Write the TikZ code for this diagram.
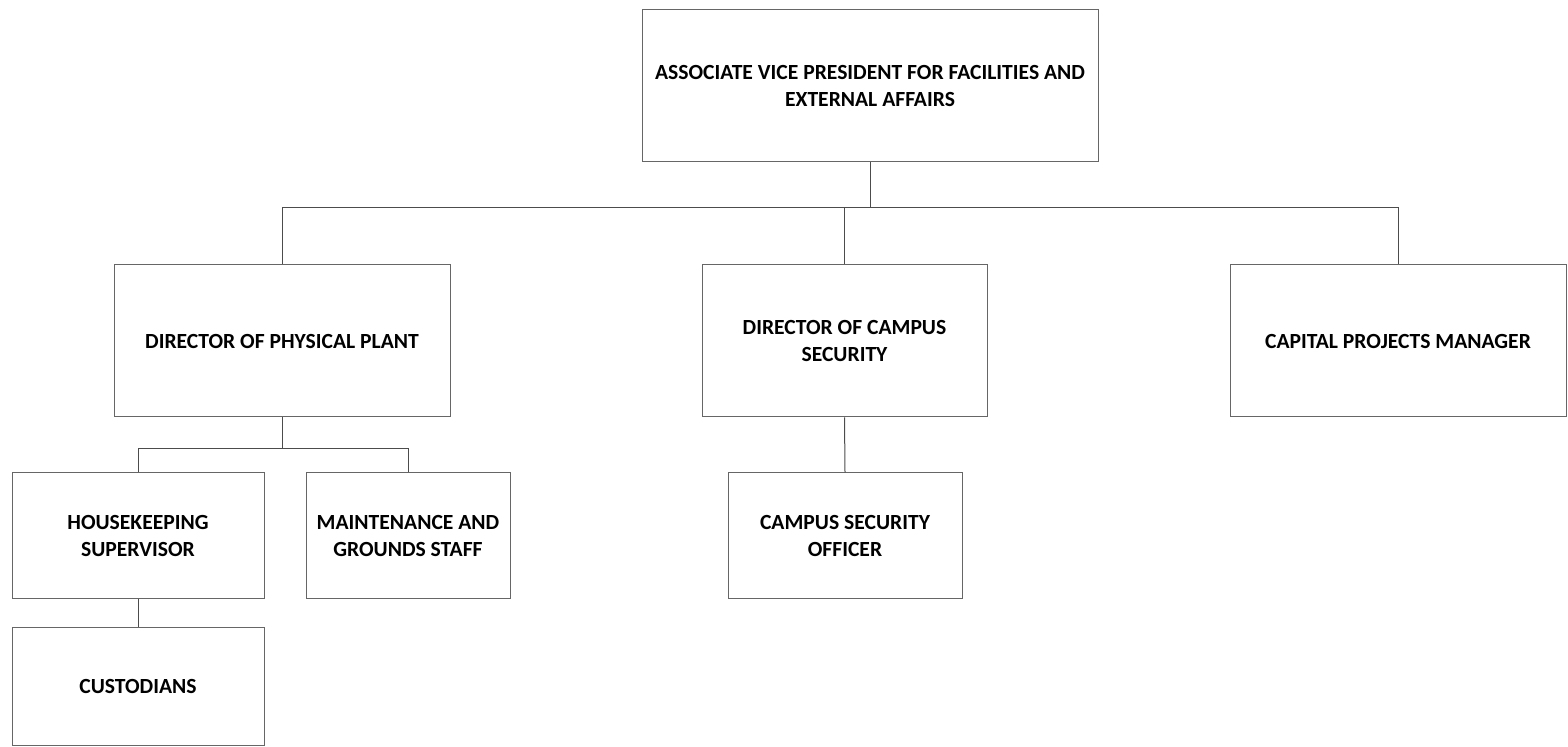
\documentclass[tikz,border=0pt]{standalone}
\usepackage{fontspec}
\setmainfont{Carlito}
\usepackage{tikz}
\usetikzlibrary{calc}
\usetikzlibrary{positioning}

\begin{document}
\begin{tikzpicture}[
		x=0.5pt,
		y=-0.5pt,
		line width=0.5pt
		]
		\tikzstyle{post}=[
			rectangle,
			draw=black!60,
			fill=white,
			%drop shadow,
			align=center,
			inner sep=0 pt,
			font=\fontsize{10.8}{13.2}\selectfont\bfseries
		]
		\tikzstyle{big post}=[
			post,
			minimum width=168 pt,
			minimum height=76 pt
		]
		\tikzstyle{small post}=[
			post,
			minimum height=63 pt
		]
		\tikzstyle{link}=[
			draw=black!70
		]
		\useasboundingbox (0,0) rectangle (1568,747);
		% Draw the top of the chart.
			\node[big post, minimum width=228 pt] (AVP) at (870,86) {ASSOCIATE VICE PRESIDENT FOR FACILITIES AND\\EXTERNAL AFFAIRS};
		% Draw the directors.
			\node[big post] (DPP) at (282,341) {DIRECTOR OF PHYSICAL PLANT};
			\node[big post, minimum width=142.5 pt] (DCS) at (844.5,341) {DIRECTOR OF CAMPUS\\SECURITY};
			\node[big post] (CPM) at (1398,341) {CAPITAL PROJECTS MANAGER};
		% Draw the staff under them.
			\node[small post, minimum width=126 pt] (HS) at (138,536) {HOUSEKEEPING\\SUPERVISOR};
			\node[small post, minimum width=102 pt] (MGS) at (408,536) {MAINTENANCE AND\\GROUNDS STAFF};
			\node[post, minimum width=126 pt, minimum height=58.5 pt] (CUST) at (138,686.5) {CUSTODIANS};
			\node[small post, minimum width=117 pt] (CSO) at (845,536) {CAMPUS SECURITY\\OFFICER};
		% Bus points of the connectors.
			\coordinate (top bus) at (870,208);
			\coordinate (plant bus) at (282,449);
		% Connect the chart.
			\draw[link] (AVP.south) -- (top bus);
			\foreach \target in {DPP, DCS, CPM}
				\draw[link] (top bus) -| (\target.north);
			\draw[link] (DPP.south) -- (plant bus);
			\foreach \target in {HS, MGS}
				\draw[link] (plant bus) -| (\target.north);
			\draw[link] (HS.south) -- (CUST.north);
			\draw[link] (DCS.south) -- (CSO.north);
	\end{tikzpicture}
\end{document}
